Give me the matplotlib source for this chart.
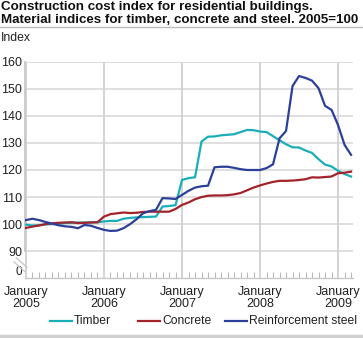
import matplotlib
matplotlib.use("Agg")
import matplotlib.pyplot as plt
from matplotlib.lines import Line2D
from matplotlib.ticker import FixedLocator, MultipleLocator

plt.rcParams['font.family'] = ['Liberation Sans', 'DejaVu Sans']

# monthly values, January 2005 - March 2009
months = list(range(51))
timber = [99.8, 99.5, 99.6, 99.9, 100.0, 100.2, 100.4, 100.5, 100.6, 100.6,
          100.7, 100.7, 101.0, 101.2, 101.2, 102.0, 102.3, 102.5, 102.6, 102.7,
          102.8, 106.5, 106.7, 107.0, 116.3, 117.0, 117.3, 130.5, 132.3, 132.4,
          132.8, 133.0, 133.2, 134.0, 134.8, 134.7, 134.2, 134.0, 132.5, 131.0,
          129.5, 128.4, 128.3, 127.2, 126.3, 124.0, 122.0, 121.3, 119.7, 118.5,
          117.6]
concrete = [98.6, 99.1, 99.5, 100.0, 100.3, 100.5, 100.6, 100.7, 100.4, 100.5,
            100.6, 100.7, 102.8, 103.7, 104.0, 104.3, 104.1, 104.2, 104.5, 104.6,
            104.6, 104.6, 104.6, 105.6, 107.1, 108.0, 109.2, 110.0, 110.5, 110.6,
            110.6, 110.7, 111.0, 111.5, 112.5, 113.5, 114.3, 115.0, 115.6, 116.0,
            116.0, 116.1, 116.3, 116.6, 117.3, 117.2, 117.4, 117.6, 118.8, 119.0,
            119.4]
steel = [101.5, 102.0, 101.5, 100.8, 100.2, 99.6, 99.2, 99.0, 98.5, 99.7,
         99.4, 98.6, 97.9, 97.5, 97.6, 98.5, 100.0, 101.8, 104.0, 104.8,
         105.3, 109.6, 109.5, 109.3, 110.8, 112.3, 113.5, 114.0, 114.2, 121.0,
         121.2, 121.2, 120.8, 120.3, 120.0, 120.0, 120.0, 120.7, 122.1, 131.7,
         134.4, 151.0, 154.7, 154.0, 153.0, 150.2, 143.7, 142.2, 136.6, 129.3,
         125.6]

series_names = ["Timber", "Concrete", "Reinforcement steel"]
colors = ["#1aaeb9", "#a3232a", "#2c3f99"]
year_ticks = [0, 12, 24, 36, 48]
year_labels = ["January\n2005", "January\n2006", "January\n2007",
               "January\n2008", "January\n2009"]
y_ticks = [80, 90, 100, 110, 120, 130, 140, 150, 160]
y_labels = ["0", "90", "100", "110", "120", "130", "140", "150", "160"]

fig = plt.figure(figsize=(3.63, 3.38), dpi=100)
ax = fig.add_axes([25 / 363, 1 - 278.3 / 338, 328 / 363, (278.3 - 61.7) / 338])

grid_h = "#dcdcdc"
grid_v = "#cfcfd6"
for v in y_ticks[1:]:
    ax.axhline(v, color=grid_h, lw=1.3, zorder=0)
for m in year_ticks:
    ax.axvline(m, color=grid_v, lw=1.3, zorder=0)

for vals, c in zip([timber, concrete, steel], colors):
    ax.plot(months, vals, color=c, lw=1.6, zorder=3)

ax.set_xlim(-0.15, 50.3)
ax.set_ylim(80, 160)
ax.set_xticks(year_ticks)
ax.set_xticklabels(year_labels, fontsize=9, color="#222222", linespacing=1.0)
ax.xaxis.set_minor_locator(MultipleLocator(1))
ax.tick_params(axis="x", which="major", length=0, pad=5.5)
ax.tick_params(axis="x", which="minor", direction="in", length=4, color="#bbbbbb", width=0.8)
ax.yaxis.set_major_locator(FixedLocator(y_ticks))
ax.set_yticklabels(y_labels, fontsize=9, color="#222222")
ax.tick_params(axis="y", length=0, pad=2)
# lift the "0" a little so it clears the first date label
ax.get_yticklabels()[0].set_fontsize(8.5)
ax.get_yticklabels()[0].set_va("bottom")

for s in ["top", "right"]:
    ax.spines[s].set_visible(False)
ax.spines["left"].set_color("#c8c8c8")
ax.spines["left"].set_linewidth(1.3)
ax.spines["left"].set_bounds(90, 160)
ax.spines["bottom"].set_color("#c8c8c8")
ax.spines["bottom"].set_linewidth(1.0)

# axis break marks
for dy in (0, -0.02):
    ax.plot([-0.027 + dy * 0.3, 0.006 + dy * 0.3], [0.095 + dy, 0.05 + dy],
            transform=ax.transAxes, color="#c8c8c8", lw=1.0, clip_on=False)

# title and rules
fig.text(1 / 363, 1 - 1 / 338, "Construction cost index for residential buildings.\n"
         "Material indices for timber, concrete and steel. 2005=100",
         fontsize=9.6, fontweight="bold", va="top", ha="left", linespacing=1.08,
         color="#111111")
fig.add_artist(Line2D([0, 1], [1 - 26.5 / 338] * 2, color="#bdbdbd", lw=1.0))
fig.text(1 / 363, 1 - 32 / 338, "Index", fontsize=8.8, va="top", ha="left", color="#222222")
fig.add_artist(Line2D([0, 1], [1 - 336 / 338] * 2, color="#d0d0d0", lw=2.5))

# legend
leg_y = 1 - 320.5 / 338
leg_x = [50, 138, 225]
for name, c, x0 in zip(series_names, colors, leg_x):
    fig.add_artist(Line2D([x0 / 363, (x0 + 22) / 363], [leg_y, leg_y], color=c, lw=1.6))
    fig.text((x0 + 24) / 363, leg_y, name, fontsize=8.7, va="center", ha="left",
             color="#222222")

fig.savefig("out.png", dpi=100)
